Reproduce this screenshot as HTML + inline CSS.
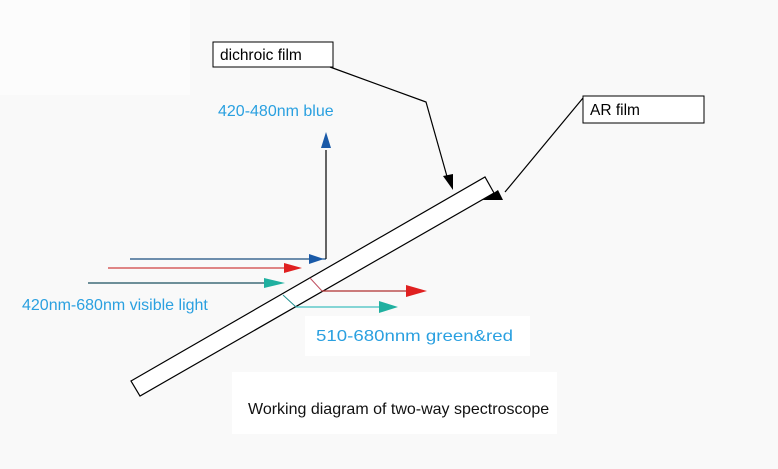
<!DOCTYPE html>
<html><head><style>
body{margin:0;width:778px;height:464px;background:#f9f9f9;overflow:hidden;font-family:"Liberation Sans",sans-serif}
</style></head><body>
<svg width="778" height="464" viewBox="0 0 778 464" xmlns="http://www.w3.org/2000/svg">
<rect x="0" y="0" width="190" height="95" fill="#fcfcfc"/>
<rect x="232" y="372" width="325" height="62" fill="#ffffff"/>
<rect x="305" y="316" width="225" height="40" fill="#ffffff"/>
<!-- plate -->
<polygon points="131,381 485,177 494,193 140,396" fill="#fff" stroke="#000" stroke-width="1.2"/>
<!-- labels boxes -->
<rect x="213" y="42" width="120" height="25" fill="#fff" stroke="#000"/>
<text x="220" y="60" font-size="15.5" fill="#000">dichroic film</text>
<rect x="583" y="96" width="121" height="27" fill="#fff" stroke="#000"/>
<text x="590" y="115" font-size="15.5" fill="#000">AR film</text>
<!-- leader lines -->
<polyline points="330,67 426,102 448,180" fill="none" stroke="#000" stroke-width="1.2"/>
<polygon points="443,176 453,174 453,190" fill="#000"/>
<polyline points="583,98 505,192" fill="none" stroke="#000" stroke-width="1.2"/>
<polygon points="483,200 498,190 503,200" fill="#000"/>
<!-- blue -->
<line x1="130" y1="259" x2="326" y2="259" stroke="#1a4f80" stroke-width="1.2"/>
<polygon points="309,254 324,259 309,264" fill="#1a5aa8"/>
<line x1="326" y1="259" x2="326" y2="150" stroke="#000" stroke-width="1.2"/>
<polygon points="321,148 326,132 331,148" fill="#1a5aa8"/>
<!-- red -->
<line x1="108" y1="268" x2="295" y2="268" stroke="#d04040" stroke-width="1.2"/>
<polygon points="284,263 302,268 284,273" fill="#e02020"/>
<line x1="310" y1="278" x2="322" y2="291" stroke="#c05060" stroke-width="1"/>
<line x1="322" y1="291" x2="412" y2="291" stroke="#b03030" stroke-width="1.2"/>
<polygon points="406,285 427,291 406,297" fill="#e02020"/>
<!-- teal -->
<line x1="88" y1="283" x2="275" y2="283" stroke="#1a5060" stroke-width="1.2"/>
<polygon points="264,278 285,283 264,288" fill="#20b0a0"/>
<line x1="283" y1="295" x2="296" y2="307" stroke="#209090" stroke-width="1"/>
<line x1="296" y1="307" x2="385" y2="307" stroke="#40c0c0" stroke-width="1.2"/>
<polygon points="379,301 398,307 379,313" fill="#20b0a0"/>
<!-- text -->
<text x="218" y="116" font-size="16" fill="#2aa0e0">420-480nm blue</text>
<text x="22" y="310" font-size="16" fill="#2aa0e0">420nm-680nm visible light</text>
<text x="316" y="341" font-size="16" fill="#2aa0e0" textLength="197" lengthAdjust="spacingAndGlyphs">510-680nnm green&amp;red</text>
<text x="248" y="414" font-size="16" fill="#111">Working diagram of two-way spectroscope</text>
</svg>
</body></html>
